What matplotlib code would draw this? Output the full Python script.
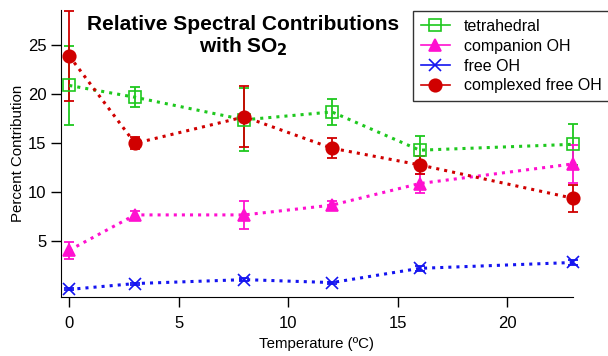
import matplotlib
matplotlib.use("Agg")
import matplotlib.pyplot as plt
import numpy as np

plt.rcParams["font.family"] = ["Liberation Sans", "DejaVu Sans"]

# temperatures (deg C) and percent contributions
temperature = [0, 3, 8, 12, 16, 23]

tetrahedral = [20.9, 19.7, 17.4, 18.2, 14.3, 14.9]
tetrahedral_err = [4.0, 1.0, 3.2, 1.3, 1.4, 2.1]

companion_oh = [4.1, 7.7, 7.7, 8.7, 10.9, 12.9]
companion_oh_err = [0.85, 0.4, 1.45, 0.4, 1.0, 1.9]

free_oh = [0.1, 0.7, 1.1, 0.8, 2.25, 2.85]
free_oh_err = [0.1, 0.1, 0.15, 0.1, 0.25, 0.3]

complexed_free_oh = [23.9, 15.0, 17.7, 14.5, 12.8, 9.4]
complexed_free_oh_err = [4.6, 0.6, 3.1, 1.0, 0.9, 1.4]

series = [
    ("tetrahedral", tetrahedral, tetrahedral_err, "#1ec81e", "s", "none"),
    ("companion OH", companion_oh, companion_oh_err, "#ff10d0", "^", None),
    ("free OH", free_oh, free_oh_err, "#1414f0", "x", None),
    ("complexed free OH", complexed_free_oh, complexed_free_oh_err, "#d00000", "o", None),
]

fig = plt.figure(figsize=(6.08, 3.56), dpi=100)
ax = fig.add_axes([0.1003, 0.1666, 0.842, 0.8054])

handles = []
for label, vals, err, color, marker, face in series:
    ax.errorbar(temperature, vals, yerr=err, fmt="none", ecolor=color,
                elinewidth=1.3, capsize=3.8, capthick=1.3, clip_on=False, zorder=2)
    ax.plot(temperature, vals, linestyle=":", linewidth=2.2, color=color,
            clip_on=False, zorder=3)
    ms = 9 if marker != "^" else 8.5
    ax.plot(temperature, vals, linestyle="none", marker=marker, markersize=ms,
            color=color, markerfacecolor=face if face else color,
            markeredgewidth=1.2, clip_on=False, zorder=4)
    # legend entry: solid line with marker
    h, = ax.plot([], [], linestyle="-", linewidth=1.2, color=color, marker=marker,
                 markersize=ms, markerfacecolor=face if face else color,
                 markeredgewidth=1.2)
    handles.append((h, label))

ax.set_xlim(-0.38, 23.0)
ax.set_ylim(-0.64, 28.6)
ax.set_xticks([0, 5, 10, 15, 20])
ax.set_yticks([5, 10, 15, 20, 25])
ax.spines["top"].set_visible(False)
ax.spines["right"].set_visible(False)
ax.tick_params(direction="out", length=7, width=1, labelsize=12)
ax.tick_params(axis="x", pad=7)
ax.set_xlabel("Temperature (ºC)", fontsize=10.8, labelpad=4)
ax.set_ylabel("Percent Contribution", fontsize=10.8, labelpad=2)

fig.text(243 / 608, 1 - 15 / 356, "Relative Spectral Contributions\nwith SO$_\\mathbf{2}$",
         ha="center", va="top", fontsize=15, fontweight="bold", linespacing=1.1)

leg = fig.legend([h for h, _ in handles], [l for _, l in handles],
                 loc="upper left", bbox_to_anchor=(413 / 608, 1 - 11 / 356),
                 fontsize=11.5, frameon=True, fancybox=False, handlelength=1.8,
                 borderpad=0.5, labelspacing=0.3, handletextpad=0.9,
                 borderaxespad=0)
leg.get_frame().set_edgecolor("black")
leg.get_frame().set_linewidth(1.0)

fig.savefig("out.png", dpi=100)
